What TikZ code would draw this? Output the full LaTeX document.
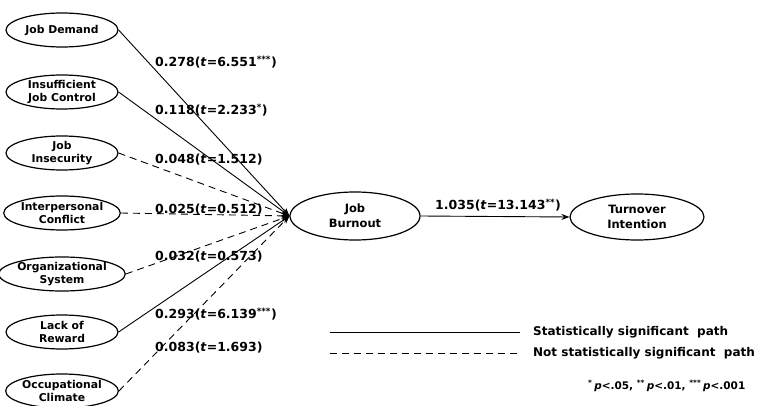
\documentclass[tikz,border=0pt]{standalone}
\usepackage{fontspec}
\setmainfont{DejaVu Sans}
\usetikzlibrary{shapes.geometric,arrows.meta}
\begin{document}
\begin{tikzpicture}[x=1pt,y=-1pt,
  factor/.style={ellipse,draw,line width=1.2pt,minimum width=112pt,minimum height=34pt,inner sep=0pt,align=center,font=\bfseries\fontsize{10.8}{12.5}\selectfont},
  bigell/.style={factor,minimum width=130pt,minimum height=48pt,font=\bfseries\fontsize{11.5}{15}\selectfont},
  sig/.style={line width=0.9pt,-{Stealth[length=8pt,width=6pt]}},
  nsig/.style={sig,dash pattern=on 7pt off 5pt},
  coef/.style={anchor=west,inner sep=0pt,font=\bfseries\fontsize{12.5}{14}\selectfont},
  legtext/.style={anchor=west,inner sep=0pt,font=\bfseries\fontsize{12}{14}\selectfont},
]
\clip (0,0) rectangle (758,406);
\fill[white] (0,0) rectangle (758,406);

\node[factor] (jd) at (62,30) {Job Demand};
\node[factor] (jc) at (62,92) {Insufficient\\Job Control};
\node[factor] (ji) at (62,153) {Job\\Insecurity};
\node[factor] (ic) at (62,213) {Interpersonal\\Conflict};
\node[factor] (os) at (62,274) {Organizational\\System};
\node[factor] (lr) at (62,332) {Lack of\\Reward};
\node[factor] (oc) at (62,391) {Occupational\\Climate};

\node[bigell] (jb) at (355,216) {Job\\Burnout};
\node[bigell,minimum width=134pt,minimum height=46pt] (ti) at (637,217) {Turnover\\Intention};

\draw[sig] (jd.east) -- (jb.west);
\draw[sig] (jc.east) -- (jb.west);
\draw[nsig] (ji.east) -- (jb.west);
\draw[nsig] (ic.east) -- (jb.west);
\draw[nsig] (os.east) -- (jb.west);
\draw[sig] (lr.east) -- (jb.west);
\draw[nsig] (oc.east) -- (jb.west);
\draw[sig] (jb.east) -- (ti.west);

\node[coef] (c1) at (155,62) {0.278(\textit{t}=6.551\textsuperscript{***})};
\node[coef] (c2) at (155,110) {0.118(\textit{t}=2.233\textsuperscript{*})};
\node[coef] (c3) at (155,160) {0.048(\textit{t}=1.512)};
\node[coef] (c4) at (155,210) {0.025(\textit{t}=0.512)};
\node[coef] (c5) at (155,257) {0.032(\textit{t}=0.573)};
\node[coef] (c6) at (155,314) {0.293(\textit{t}=6.139\textsuperscript{***})};
\node[coef] (c7) at (155,348) {0.083(\textit{t}=1.693)};
\node[coef] (c8) at (435,205) {1.035(\textit{t}=13.143\textsuperscript{**})};

\coordinate (s1) at (330,332);
\coordinate (s2) at (520,332);
\coordinate (n1) at (330,353);
\coordinate (n2) at (520,353);
\draw[line width=0.9pt] (s1) -- (s2);
\draw[line width=0.9pt,dash pattern=on 7pt off 5pt] (n1) -- (n2);
\node[legtext] (lt1) at (533,332) {Statistically significant\ \ path};
\node[legtext] (lt2) at (533,353) {Not statistically significant\ \ path};
\node[legtext,font=\bfseries\fontsize{10.5}{12}\selectfont] (lt3) at (588,386) {\textsuperscript{*}\,\textit{p}<.05, \textsuperscript{**}\,\textit{p}<.01, \textsuperscript{***}\,\textit{p}<.001};
\end{tikzpicture}
\end{document}
